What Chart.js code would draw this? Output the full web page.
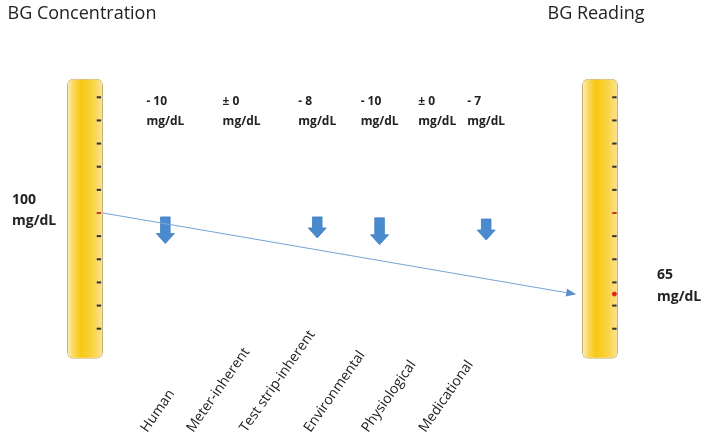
<!DOCTYPE html>
<html>
<head>
<meta charset="utf-8">
<script src="https://cdn.jsdelivr.net/npm/chart.js@4"></script>
<style>
  html, body { margin: 0; padding: 0; background: #fff; }
  #wrap { width: 707px; height: 443px; }
</style>
</head>
<body>
<div id="wrap"><canvas id="bgChart"></canvas></div>
<script>
// data
const categories = ['Human', 'Meter-inherent', 'Test strip-inherent', 'Environmental', 'Physiological', 'Medicational'];
const changes = [-10, 0, -8, -10, 0, -7];          // mg/dL
const changeLabels = ['- 10', '\u00b1 0', '- 8', '- 10', '\u00b1 0', '- 7'];
const startValue = 100;                              // BG concentration
const readingValue = 65;                             // BG reading
const scaleTicks = [50, 60, 70, 80, 90, 100, 110, 120, 130, 140, 150];
const scaleRange = [37, 158];                        // extent of the ruler bars, mg/dL
const arrowTop = [98.3, null, 98.3, 97.9, null, 97.4];
const arrowTip = [86.8, null, 89.2, 86.3, null, 88.3];

// layout (x axis: 0 = left ruler, 100 = right ruler)
const catX = [15.6, 30.4, 45.1, 57.2, 68.4, 77.9];
const labelX = [12.1, 21.0, 31.3, 43.8, 55.0, 66.1];

const rulerData = [{ x: 0, y: scaleRange }, { x: 100, y: scaleRange }];
const tickData = scaleTicks.map(v => ({ x: 2.7, y: v })).concat(scaleTicks.map(v => ({ x: 102.8, y: v })));
const arrowData = categories.map((c, i) => ({ x: catX[i], y: arrowTop[i] === null ? null : [arrowTip[i], arrowTop[i]] }))
  .filter(d => d.y !== null);

const textColor = '#222222';

const decorations = {
  id: 'decorations',
  beforeDatasetsDraw(chart) {
    // block arrows for each non-zero effect
    const meta = chart.getDatasetMeta(3);
    const c = chart.ctx;
    c.save();
    c.fillStyle = '#4a8bd0';
    c.strokeStyle = '#3f7dbf';
    c.lineWidth = 0.8;
    meta.data.forEach(el => {
      const x = el.x, top = Math.min(el.y, el.base), tip = Math.max(el.y, el.base);
      const sw = 4.8, hw = 9, hh = 10;
      c.beginPath();
      c.moveTo(x - sw, top);
      c.lineTo(x + sw, top);
      c.lineTo(x + sw, tip - hh);
      c.lineTo(x + hw, tip - hh);
      c.lineTo(x, tip);
      c.lineTo(x - hw, tip - hh);
      c.lineTo(x - sw, tip - hh);
      c.closePath();
      c.fill();
      c.stroke();
    });
    c.restore();
  },
  afterDatasetsDraw(chart) {
    const c = chart.ctx;
    const xs = chart.scales.x, ys = chart.scales.y;
    c.save();

    // arrow head at the end of the BG line
    const line = chart.getDatasetMeta(2).data;
    const p0 = line[0], p1 = line[line.length - 1];
    const ang = Math.atan2(p1.y - p0.y, p1.x - p0.x);
    c.fillStyle = '#5b8fcc';
    c.beginPath();
    c.moveTo(p1.x + 2, p1.y + 2 * Math.tan(ang));
    c.lineTo(p1.x - 8 * Math.cos(ang) + 4 * Math.sin(ang), p1.y - 8 * Math.sin(ang) - 4 * Math.cos(ang));
    c.lineTo(p1.x - 8 * Math.cos(ang) - 4 * Math.sin(ang), p1.y - 8 * Math.sin(ang) + 4 * Math.cos(ang));
    c.closePath();
    c.fill();

    // titles above the rulers
    c.fillStyle = textColor;
    c.font = '18px "Open Sans", sans-serif';
    c.textAlign = 'center';
    c.textBaseline = 'middle';
    c.fillText('BG Concentration', xs.getPixelForValue(0) - 3, 14);
    c.fillText('BG Reading', xs.getPixelForValue(100) - 4, 14);

    // start / reading values
    c.font = 'bold 14px "Open Sans", sans-serif';
    c.textAlign = 'left';
    const yStart = ys.getPixelForValue(startValue);
    const xl = xs.getPixelForValue(0) - 73;
    c.fillText(String(startValue), xl, yStart - 13);
    c.fillText('mg/dL', xl, yStart + 8);
    const yRead = ys.getPixelForValue(readingValue);
    const xr = xs.getPixelForValue(100) + 57;
    c.fillText(String(readingValue), xr, yRead - 19);
    c.fillText('mg/dL', xr, yRead + 3);

    // effect size per factor
    c.font = 'bold 12px "Open Sans", sans-serif';
    const unitW = c.measureText('mg/dL').width;
    categories.forEach((cat, i) => {
      const x = xs.getPixelForValue(catX[i]) - unitW / 2;
      c.fillText(changeLabels[i], x, 102);
      c.fillText('mg/dL', x, 122);
    });

    // rotated factor names
    c.font = '14px "Open Sans", sans-serif';
    c.textBaseline = 'alphabetic';
    categories.forEach((cat, i) => {
      c.save();
      c.translate(xs.getPixelForValue(labelX[i]), 433);
      c.rotate(-55 * Math.PI / 180);
      c.fillText(cat, 0, 0);
      c.restore();
    });
    c.restore();
  }
};

const ctx = document.getElementById('bgChart').getContext('2d');
new Chart(ctx, {
  data: {
    datasets: [{
      type: 'bar',
      label: 'Scale',
      data: rulerData,
      grouped: false,
      maxBarThickness: 36,
      borderRadius: 6,
      borderSkipped: false,
      borderWidth: 1,
      borderColor: '#c8b27a',
      backgroundColor: function (context) {
        const chart = context.chart;
        if (!chart.chartArea || !context.raw) return '#f8cf2a';
        const x = chart.scales.x.getPixelForValue(context.raw.x);
        const g = chart.ctx.createLinearGradient(x - 18, 0, x + 18, 0);
        g.addColorStop(0, '#fcefc0');
        g.addColorStop(0.18, '#fad85e');
        g.addColorStop(0.38, '#f7c813');
        g.addColorStop(0.7, '#f9d340');
        g.addColorStop(1, '#fce39a');
        return g;
      },
      clip: false,
      order: 4
    }, {
      type: 'scatter',
      label: 'Scale ticks',
      data: tickData,
      pointStyle: 'line',
      pointRadius: 2.2,
      pointBorderWidth: 2,
      pointBorderColor: c => (c.raw && c.raw.y === startValue) ? '#c0392b' : '#333333',
      pointHoverRadius: 2.2,
      clip: false,
      order: 3
    }, {
      type: 'line',
      label: 'BG',
      data: [{ x: 3.5, y: startValue }, { x: 95, y: readingValue }],
      borderColor: '#7aa6d6',
      borderWidth: 1.2,
      pointRadius: 0,
      fill: false,
      clip: false,
      order: 1
    }, {
      type: 'bar',
      label: 'Effect',
      data: arrowData,
      grouped: false,
      maxBarThickness: 9,
      backgroundColor: 'rgba(0,0,0,0)',
      order: 2
    }, {
      type: 'scatter',
      label: 'Reading',
      data: [{ x: 102.8, y: readingValue }],
      pointStyle: 'circle',
      pointRadius: 2,
      pointBackgroundColor: '#e0241b',
      pointBorderColor: '#e0241b',
      clip: false,
      order: 0
    }]
  },
  options: {
    responsive: true,
    maintainAspectRatio: false,
    animation: false,
    layout: { padding: { left: 85, right: 55.5, top: 51, bottom: 68 } },
    plugins: { legend: { display: false }, tooltip: { enabled: false } },
    scales: {
      x: { type: 'linear', min: 0, max: 110, offset: false, display: false },
      y: { type: 'linear', min: 30, max: 170, display: false }
    }
  },
  plugins: [decorations]
});
</script>
</body>
</html>
